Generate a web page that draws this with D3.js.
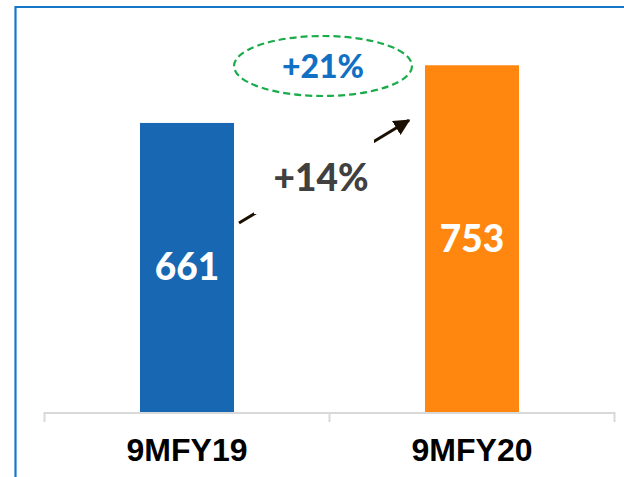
<!DOCTYPE html>
<html>
<head>
<meta charset="utf-8">
<script src="https://cdn.jsdelivr.net/npm/d3@7"></script>
<style>
  html, body { margin: 0; padding: 0; background: #ffffff; }
  svg { display: block; }
</style>
</head>
<body>
<div id="chart"></div>
<script>
// ---- data ----
const categories = ["9MFY19", "9MFY20"];
const values = [661, 753];
const barColors = ["#1767b3", "#ff870f"];
const growthLabel = "+14%";
const highlightLabel = "+21%";
const axisMin = 200;   // value axis does not start at zero
const axisMax = 800;

// ---- layout ----
const W = 624, H = 477;
const svg = d3.select("#chart").append("svg").attr("width", W).attr("height", H);
const labelFont = "Lato, 'Open Sans', sans-serif";
const labelWeight = 900;

// frame (blue top & left border)
svg.append("line").attr("x1", 15.5).attr("x2", W).attr("y1", 7).attr("y2", 7)
  .attr("stroke", "#1677c9").attr("stroke-width", 2.2);
svg.append("line").attr("x1", 15.5).attr("x2", 15.5).attr("y1", 6).attr("y2", H)
  .attr("stroke", "#1677c9").attr("stroke-width", 2.2);

const x = d3.scaleBand().domain(categories).range([44.5, 614.5]).paddingInner(0.67).paddingOuter(0.335);
const y = d3.scaleLinear().domain([axisMin, axisMax]).range([412, 412 - 0.627 * (axisMax - axisMin)]);

// bars
svg.selectAll("rect.bar").data(values).enter().append("rect")
  .attr("class", "bar")
  .attr("x", (d, i) => x(categories[i]))
  .attr("width", x.bandwidth())
  .attr("y", d => y(d))
  .attr("height", d => y(axisMin) - y(d))
  .attr("fill", (d, i) => barColors[i]);

// value labels inside bars
svg.selectAll("text.val").data(values).enter().append("text")
  .attr("class", "val")
  .attr("x", (d, i) => x(categories[i]) + x.bandwidth() / 2)
  .attr("y", d => (y(d) + y(axisMin)) / 2 + 13)
  .attr("text-anchor", "middle")
  .attr("fill", "#ffffff")
  .attr("font-family", labelFont)
  .attr("font-weight", labelWeight)
  .attr("font-size", 37)
  .text(d => d);

// category axis
const band = x.step();
const axisG = svg.append("g");
const x0 = x(categories[0]) - x.paddingOuter() * band;
const ticksX = [0, 1, 2].map(i => x0 + i * band);
axisG.append("line").attr("x1", ticksX[0]).attr("x2", ticksX[2]).attr("y1", 413).attr("y2", 413)
  .attr("stroke", "#d9d9d9").attr("stroke-width", 2);
ticksX.forEach(tx => {
  axisG.append("line").attr("x1", tx).attr("x2", tx).attr("y1", 412).attr("y2", 422)
    .attr("stroke", "#d9d9d9").attr("stroke-width", 2);
});
axisG.selectAll("text.cat").data(categories).enter().append("text")
  .attr("class", "cat")
  .attr("x", d => x(d) + x.bandwidth() / 2)
  .attr("y", 461)
  .attr("text-anchor", "middle")
  .attr("fill", "#000000")
  .attr("font-family", "'Liberation Sans', Arial, sans-serif")
  .attr("font-weight", "bold")
  .attr("font-size", 32)
  .text(d => d);

// growth arrow
svg.append("defs").append("marker")
  .attr("id", "ah").attr("viewBox", "0 0 10 10").attr("refX", 9).attr("refY", 5)
  .attr("markerWidth", 5.5).attr("markerHeight", 5.5).attr("orient", "auto")
  .append("path").attr("d", "M0,0 L10,5 L0,10 z").attr("fill", "#1a0f00");

const ax1 = x(categories[0]) + x.bandwidth() + 5, ay1 = y(values[0]) + 100;
const ax2 = x(categories[1]) - 16, ay2 = y(values[1]) + 55;
svg.append("line").attr("x1", ax1).attr("y1", ay1).attr("x2", ax2).attr("y2", ay2)
  .attr("stroke", "#1a0f00").attr("stroke-width", 3).attr("marker-end", "url(#ah)");

// white box behind growth label
svg.append("rect").attr("x", 254).attr("y", 140).attr("width", 120).attr("height", 74).attr("fill", "#ffffff");
svg.append("text").attr("x", 321).attr("y", 191)
  .attr("text-anchor", "middle").attr("fill", "#404040")
  .attr("font-family", labelFont).attr("font-weight", labelWeight)
  .attr("font-size", 37).text(growthLabel);

// highlight ellipse
svg.append("ellipse").attr("cx", 323).attr("cy", 66).attr("rx", 89).attr("ry", 30)
  .attr("fill", "none").attr("stroke", "#1aab4b").attr("stroke-width", 2.2)
  .attr("stroke-dasharray", "7,4");
svg.append("text").attr("x", 323).attr("y", 78)
  .attr("text-anchor", "middle").attr("fill", "#1170c4")
  .attr("font-family", labelFont).attr("font-weight", labelWeight)
  .attr("font-size", 32).text(highlightLabel);
</script>
</body>
</html>
